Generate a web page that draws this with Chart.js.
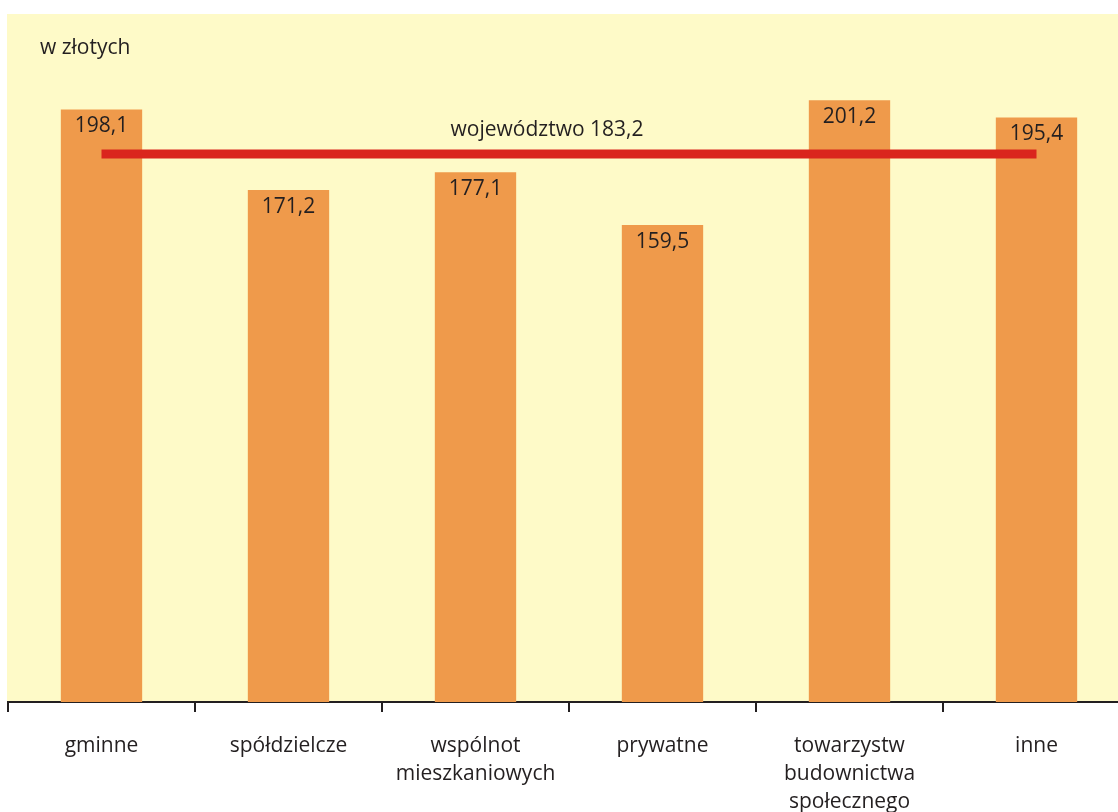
<!DOCTYPE html>
<html>
<head>
<meta charset="utf-8">
<script src="https://cdn.jsdelivr.net/npm/chart.js@4/dist/chart.umd.min.js"></script>
<style>
  html, body { margin: 0; padding: 0; background: #ffffff; overflow: hidden; }
  canvas { display: block; }
</style>
</head>
<body>
<canvas id="c" width="1140" height="812" style="width:1140px;height:812px"></canvas>
<script>
// Average rent per unit, by type of owner (zł)
const categories = [
  ['gminne'],
  ['spółdzielcze'],
  ['wspólnot', 'mieszkaniowych'],
  ['prywatne'],
  ['towarzystw', 'budownictwa', 'społecznego'],
  ['inne']
];
const values = [198.1, 171.2, 177.1, 159.5, 201.2, 195.4];
const regionValue = 183.2;
const regionLabel = 'województwo 183,2';
const unitLabel = 'w złotych';

const FONT = '"Open Sans", "DejaVu Sans", sans-serif';
const TEXT = '#231f20';
const SIZE = 21;

const fmt = v => v.toFixed(1).replace('.', ',');

const plotBackground = {
  id: 'plotBackground',
  beforeDraw(chart) {
    const { ctx, chartArea: a } = chart;
    ctx.save();
    ctx.fillStyle = '#fefac8';
    ctx.fillRect(a.left - 1, 14, a.right - a.left + 1, a.bottom - 14);
    ctx.restore();
  }
};

const annotations = {
  id: 'annotations',
  afterDatasetsDraw(chart) {
    const { ctx } = chart;
    const y = chart.scales.y;
    ctx.save();
    ctx.fillStyle = TEXT;
    ctx.font = SIZE + 'px ' + FONT;
    ctx.textAlign = 'center';
    ctx.textBaseline = 'middle';
    // value labels inside the bar tops
    const meta = chart.getDatasetMeta(1);
    meta.data.forEach((bar, i) => {
      ctx.fillText(fmt(values[i]), bar.x, bar.y + 17);
    });
    // label of the regional average line
    ctx.fillText(regionLabel, 547, y.getPixelForValue(regionValue) - 24);
    // unit label
    ctx.textAlign = 'left';
    ctx.fillText(unitLabel, 40, 48);
    ctx.restore();
  }
};

new Chart(document.getElementById('c'), {
  data: {
    labels: categories,
    datasets: [
      {
        type: 'line',
        data: values.map(() => regionValue),
        borderColor: '#da251d',
        borderWidth: 9,
        pointRadius: 0,
        borderCapStyle: 'butt',
        order: 0
      },
      {
        type: 'bar',
        data: values,
        backgroundColor: '#ef9a4b',
        categoryPercentage: 1,
        barPercentage: 0.435,
        order: 1
      }
    ]
  },
  options: {
    responsive: false,
    animation: false,
    devicePixelRatio: 1,
    layout: { padding: { left: 8, right: 10, top: 14, bottom: 0 } },
    plugins: { legend: { display: false }, tooltip: { enabled: false } },
    scales: {
      x: {
        type: 'category',
        offset: true,
        afterFit(scale) { scale.height = 110; },
        grid: {
          offset: true,
          drawOnChartArea: false,
          drawTicks: true,
          tickLength: 10,
          color: TEXT,
          lineWidth: 2
        },
        border: { display: true, color: TEXT, width: 2 },
        ticks: {
          color: TEXT,
          font: { family: FONT, size: SIZE, lineHeight: 28 / 21 },
          padding: 20,
          maxRotation: 0,
          autoSkip: false
        }
      },
      y: {
        display: false,
        min: 0,
        max: 230
      }
    }
  },
  plugins: [plotBackground, annotations]
});
</script>
</body>
</html>
